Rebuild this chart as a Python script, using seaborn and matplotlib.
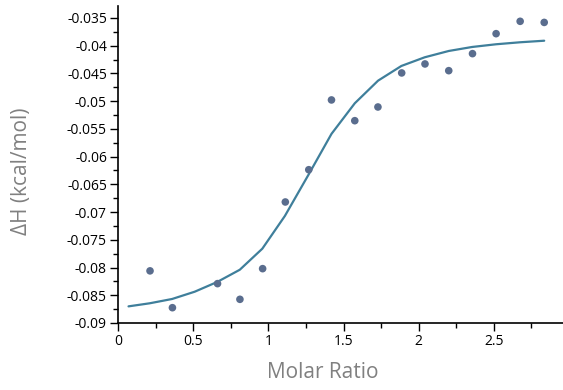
import matplotlib
matplotlib.use("Agg")
import matplotlib.pyplot as plt
import seaborn as sns
import pandas as pd
from matplotlib.ticker import MultipleLocator, FuncFormatter

# Data points (injections)
pt_ratio = [0.213, 0.362, 0.662, 0.811, 0.962, 1.113, 1.269, 1.420, 1.575, 1.729,
            1.887, 2.042, 2.200, 2.358, 2.515, 2.675, 2.835]
pt_dh = [-0.0806, -0.08724, -0.0829, -0.08573, -0.0802, -0.06818, -0.06236, -0.04978,
         -0.05352, -0.05105, -0.04491, -0.04329, -0.0445, -0.04143, -0.03783, -0.0356, -0.0358]

# Fitted curve
fit_ratio = [0.07, 0.21, 0.36, 0.51, 0.66, 0.81, 0.96, 1.11, 1.27, 1.42, 1.575, 1.73,
             1.885, 2.04, 2.2, 2.355, 2.515, 2.675, 2.835]
fit_dh = [-0.0870, -0.08645, -0.08567, -0.08436, -0.0826, -0.0804, -0.0766, -0.0707,
          -0.06313, -0.0559, -0.05038, -0.0463, -0.04365, -0.04209, -0.04095, -0.04023,
          -0.03974, -0.03938, -0.0391]

sns.set_style("ticks")
plt.rcParams['font.family'] = ['Open Sans', 'DejaVu Sans']

fig = plt.figure(figsize=(5.63, 3.9), dpi=100)
ax = fig.add_axes([118/563, 67/390, 445/563, 317/390])

pts = pd.DataFrame({"ratio": pt_ratio, "dh": pt_dh})
fit = pd.DataFrame({"ratio": fit_ratio, "dh": fit_dh})

sns.lineplot(data=fit, x="ratio", y="dh", ax=ax, color="#3f7f9b", linewidth=1.6, sort=False)
sns.scatterplot(data=pts, x="ratio", y="dh", ax=ax, color="#5a6d8e", s=30, edgecolor="none", zorder=3)

ax.set_xlim(0, 2.96)
ax.set_ylim(-0.09, -0.03284)
ax.xaxis.set_major_locator(MultipleLocator(0.5))
ax.xaxis.set_minor_locator(MultipleLocator(0.25))
ax.yaxis.set_major_locator(MultipleLocator(0.005))
ax.yaxis.set_minor_locator(MultipleLocator(0.0025))

def yfmt(v, pos):
    return f"{v:.3f}".rstrip("0").rstrip(".")
def xfmt(v, pos):
    return f"{v:.1f}".rstrip("0").rstrip(".")
ax.yaxis.set_major_formatter(FuncFormatter(yfmt))
ax.xaxis.set_major_formatter(FuncFormatter(xfmt))

ax.tick_params(which="major", length=6, width=1, labelsize=10, colors="black", pad=2)
ax.tick_params(which="minor", length=3.5, width=1, colors="black")
for s in ["top", "right"]:
    ax.spines[s].set_visible(False)
for s in ["left", "bottom"]:
    ax.spines[s].set_linewidth(1.2)
    ax.spines[s].set_color("black")

ax.set_xlabel("Molar Ratio", fontsize=15, color="#808080")
ax.set_ylabel("ΔH (kcal/mol)", fontsize=15, color="#808080")
ax.xaxis.set_label_coords(0.46, -0.155)
ax.xaxis.label.set_verticalalignment("center")
ax.yaxis.set_label_coords(-0.216, 0.48)
ax.yaxis.label.set_verticalalignment("center")

fig.savefig("out.png", dpi=100)
